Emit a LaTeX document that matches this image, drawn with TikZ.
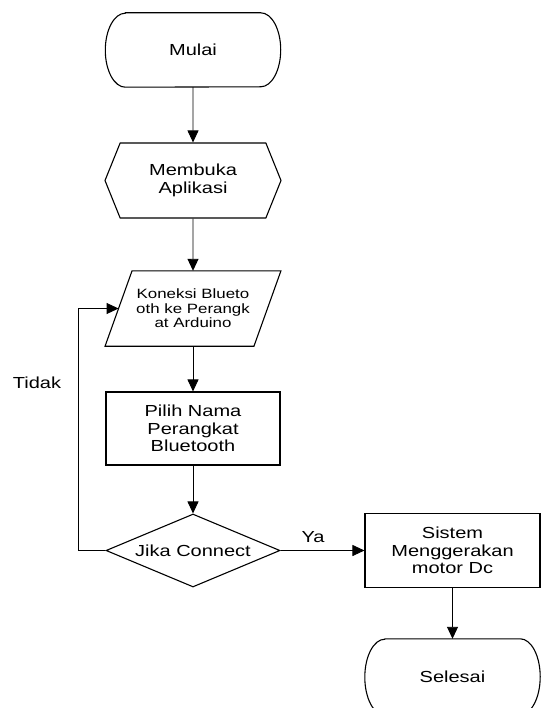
\documentclass[tikz,border=0pt]{standalone}
\usepackage{fontspec}
\setmainfont{Liberation Sans}[FakeStretch=1.25]
\usetikzlibrary{shapes.geometric,shapes.symbols,arrows.meta}
\begin{document}
\begin{tikzpicture}[x=1pt,y=-1pt,
  every node/.style={font=\fontsize{16}{17.5}\selectfont,align=center},
  shapeline/.style={draw,line width=1.1pt},
  termbox/.style={minimum width=175pt,inner sep=0pt},
  procbox/.style={shapeline,minimum width=174pt,minimum height=73pt,inner sep=0pt},
  prepbox/.style={shapeline,signal,signal to=west and east,signal pointer angle=136,minimum width=176pt,minimum height=75pt,inner sep=0pt},
  iobox/.style={minimum width=148.5pt,minimum height=75pt,inner sep=0pt,font=\fontsize{13.5}{14.5}\selectfont},
  decbox/.style={shapeline,diamond,aspect=2.38,minimum width=174pt,minimum height=73pt,inner sep=0pt},
  flow/.style={line width=0.9pt,-{Triangle[length=12pt,width=11pt]}}]
\useasboundingbox (0,0) rectangle (543,708);
\clip (0,0) rectangle (543,708);
\node[termbox,minimum height=74pt] (mulai) at (193,50) {Mulai};
\draw[shapeline] ([xshift=20pt]mulai.north west) -- ([xshift=-20pt]mulai.north east) arc[start angle=90,end angle=-90,x radius=20pt,y radius=37pt] -- ([xshift=20pt]mulai.south west) arc[start angle=270,end angle=90,x radius=20pt,y radius=37pt] -- cycle;
\node[prepbox] (buka) at (193,180.5) {Membuka\\Aplikasi};
\node[iobox] (koneksi) at (193,308.5) {Koneksi Blueto\\oth ke Perangk\\at Arduino};
\draw[shapeline] ([xshift=13.5pt]koneksi.north west) -- ([xshift=13.5pt]koneksi.north east) -- ([xshift=-13.5pt]koneksi.south east) -- ([xshift=-13.5pt]koneksi.south west) -- cycle;
\node[procbox] (pilih) at (193,428.5) {Pilih Nama\\Perangkat\\Bluetooth};
\node[decbox] (jika) at (193,550.5) {};
\node (jikatext) at (jika.center) {Jika Connect};
\node[procbox,minimum width=175pt,minimum height=74pt] (sistem) at (452.5,550.5) {Sistem\\Menggerakan\\motor Dc};
\node[termbox,minimum height=76pt] (selesai) at (452.5,677) {Selesai};
\draw[shapeline] ([xshift=20pt]selesai.north west) -- ([xshift=-20pt]selesai.north east) arc[start angle=90,end angle=-90,x radius=20pt,y radius=38pt] -- ([xshift=20pt]selesai.south west) arc[start angle=270,end angle=90,x radius=20pt,y radius=38pt] -- cycle;
\coordinate (balik) at (78,550.5);
\node (tidak) at (37,383) {Tidak};
\node (ya) at (313,537) {Ya};
\draw[flow] (mulai) -- (buka);
\draw[flow] (buka) -- (koneksi);
\draw[flow] (koneksi) -- (pilih);
\draw[flow] (pilih) -- (jika);
\draw[flow] (jika) -- (sistem);
\draw[flow] (sistem) -- (selesai);
\draw[flow] (jika.west) -- (balik) |- (koneksi.west);
\end{tikzpicture}
\end{document}
